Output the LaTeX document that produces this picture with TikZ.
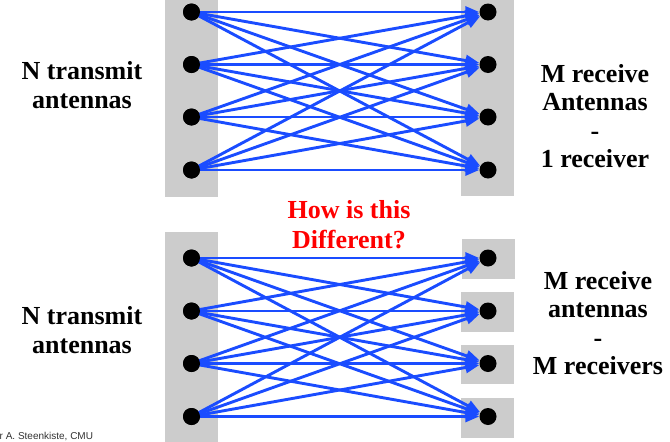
\documentclass[tikz,border=0pt]{standalone}
\usepackage{fontspec}
\setmainfont{Liberation Serif}
\newfontfamily\footfont{Liberation Sans}
\usetikzlibrary{arrows.meta}
\definecolor{boxgray}{RGB}{204,204,204}
\definecolor{arrblue}{RGB}{26,76,255}
\tikzset{
  panel/.style={fill=boxgray, draw=none},
  dot/.style={circle, fill=black, inner sep=0pt, minimum size=17pt},
  arr/.style={draw=arrblue, line width=2.9pt, -{Triangle[length=14pt,width=11pt]}},
  lbl/.style={anchor=base, inner sep=0pt, font=\fontsize{26}{29}\selectfont\bfseries},
  redlbl/.style={lbl, text=red},
  foot/.style={anchor=base west, inner sep=0pt, font=\footfont\fontsize{10}{12}\selectfont, text=black!80}
}
\begin{document}
\begin{tikzpicture}[x=1pt,y=-1pt]
\useasboundingbox (0,0) rectangle (670,442);
% gray panels
\fill[panel] (165,0) rectangle (218,197);
\fill[panel] (461,0) rectangle (514,196);
\fill[panel] (165,232) rectangle (218,442);
\fill[panel] (462,239) rectangle (515,279);
\fill[panel] (461,292) rectangle (514,332);
\fill[panel] (461,345) rectangle (514,384);
\fill[panel] (461,398) rectangle (514,438);
% top dots
\foreach \i/\y in {1/12,2/64.5,3/117,4/170}{
  \node[dot] (tl\i) at (191.5,\y) {};
  \node[dot] (tr\i) at (488,\y) {};
}
% bottom dots
\foreach \i/\y in {1/258,2/311,3/363.5,4/416.5}{
  \node[dot] (bl\i) at (191.5,\y) {};
  \node[dot] (br\i) at (488,\y) {};
}
% arrows
\foreach \i in {1,2,3,4}{
  \foreach \j in {1,2,3,4}{
    \draw[arr] (tl\i.center) -- (tr\j);
    \draw[arr] (bl\i.center) -- (br\j);
  }
}
% redraw left dots on top
\foreach \i/\y in {1/12,2/64.5,3/117,4/170}{
  \fill (191.5,\y) circle (8.5pt);
}
\foreach \i/\y in {1/258,2/311,3/363.5,4/416.5}{
  \fill (191.5,\y) circle (8.5pt);
}
% labels
\node[lbl] (ntx1) at (82,79) {N transmit};
\node[lbl] (ntx2) at (82,108) {antennas};
\node[lbl] (mrx1) at (595,82) {M receive};
\node[lbl] (mrx2) at (595,110.5) {Antennas};
\node[lbl] (mrx3) at (595,139) {-};
\node[lbl] (mrx4) at (595,167) {1 receiver};
\node[redlbl] (q1) at (349,218) {How is this};
\node[redlbl] (q2) at (349,248) {Different?};
\node[lbl] (bntx1) at (82,324) {N transmit};
\node[lbl] (bntx2) at (82,353) {antennas};
\node[lbl] (bmrx1) at (598,289) {M receive};
\node[lbl] (bmrx2) at (598,317.5) {antennas};
\node[lbl] (bmrx3) at (598,346) {-};
\node[lbl] (bmrx4) at (598,374) {M receivers};
\node[foot] (foot) at (-0.5,439.5) {r A. Steenkiste, CMU};
\end{tikzpicture}
\end{document}
